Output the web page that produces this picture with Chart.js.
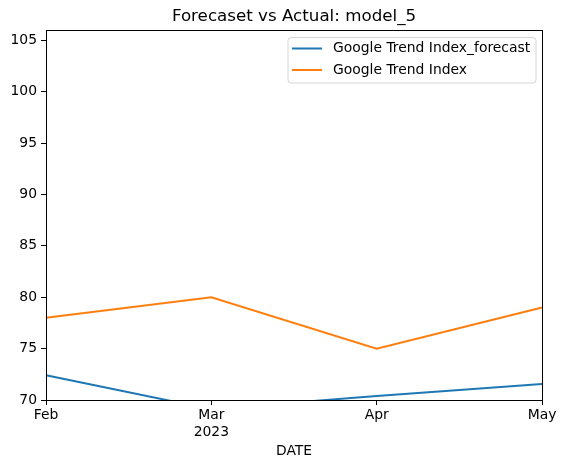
<!DOCTYPE html>
<html>
<head>
<meta charset="utf-8">
<script src="https://cdn.jsdelivr.net/npm/chart.js@4"></script>
<style>
  html, body { margin: 0; padding: 0; background: #fff; }
  #wrap { width: 566px; height: 467px; }
</style>
</head>
<body>
<div id="wrap"><canvas id="chart" width="566" height="467"></canvas></div>
<script>
const months = ['Feb', ['Mar', '2023'], 'Apr', 'May'];
const forecast = [72.4, 69.1, 70.4, 71.55];
const actual = [78, 80, 75, 79];
const yTicks = [70, 75, 80, 85, 90, 95, 100, 105];
const chartTitle = 'Forecaset vs Actual: model_5';

const FONT = "'DejaVu Sans', sans-serif";

// frame, title and legend drawn the matplotlib way
const mplExtras = {
  id: 'mplExtras',
  afterDraw(chart) {
    const { ctx, chartArea: a } = chart;
    ctx.save();
    ctx.strokeStyle = '#000';
    ctx.lineWidth = 1;
    ctx.strokeRect(Math.round(a.left) + 0.5, Math.round(a.top) + 0.5, Math.round(a.right - a.left), Math.round(a.bottom - a.top));

    ctx.fillStyle = '#000';
    ctx.font = `16.7px ${FONT}`;
    ctx.textAlign = 'center';
    ctx.textBaseline = 'middle';
    ctx.fillText(chartTitle, (a.left + a.right) / 2, 17);

    // legend box
    const bx = 288, by = 37.5, bw = 248, bh = 45.5;
    ctx.beginPath();
    ctx.roundRect(bx, by, bw, bh, 3);
    ctx.fillStyle = 'rgba(255,255,255,0.8)';
    ctx.fill();
    ctx.strokeStyle = '#d6d6d6';
    ctx.stroke();
    ctx.font = `13.9px ${FONT}`;
    ctx.textAlign = 'left';
    chart.data.datasets.forEach((ds, i) => {
      const y = 48.5 + i * 21.5;
      ctx.strokeStyle = ds.borderColor;
      ctx.lineWidth = 2;
      ctx.beginPath();
      ctx.moveTo(292, y);
      ctx.lineTo(322, y);
      ctx.stroke();
      ctx.fillStyle = '#000';
      ctx.fillText(ds.label, 333, y);
    });
    ctx.restore();
  }
};

new Chart(document.getElementById('chart'), {
  type: 'line',
  data: {
    labels: months,
    datasets: [
      { label: 'Google Trend Index_forecast', data: forecast, borderColor: '#1f77b4', borderWidth: 2, pointRadius: 0, tension: 0 },
      { label: 'Google Trend Index', data: actual, borderColor: '#ff7f0e', borderWidth: 2, pointRadius: 0, tension: 0 }
    ]
  },
  options: {
    responsive: false,
    animation: false,
    events: [],
    layout: { padding: { top: 30, right: 24, left: 0, bottom: 0 } },
    plugins: { legend: { display: false }, title: { display: false }, tooltip: { enabled: false } },
    scales: {
      x: {
        type: 'category',
        offset: false,
        grid: { drawOnChartArea: false, drawTicks: true, tickLength: 5, color: '#000' },
        border: { color: '#000' },
        ticks: { color: '#000', font: { family: FONT, size: 13.9 }, padding: 2, maxRotation: 0, autoSkip: false },
        title: { display: true, text: 'DATE', color: '#000', font: { family: FONT, size: 13.9 }, padding: { top: 4, bottom: 7 } },
        afterFit(s) { s.height = 67; }
      },
      y: {
        min: 70,
        max: 106,
        afterBuildTicks(s) { s.ticks = yTicks.map(v => ({ value: v })); },
        grid: { drawOnChartArea: false, drawTicks: true, tickLength: 5, color: '#000' },
        border: { color: '#000' },
        ticks: { color: '#000', font: { family: FONT, size: 13.9 }, padding: 4 },
        afterFit(s) { s.width = 46; }
      }
    }
  },
  plugins: [mplExtras]
});
</script>
</body>
</html>
